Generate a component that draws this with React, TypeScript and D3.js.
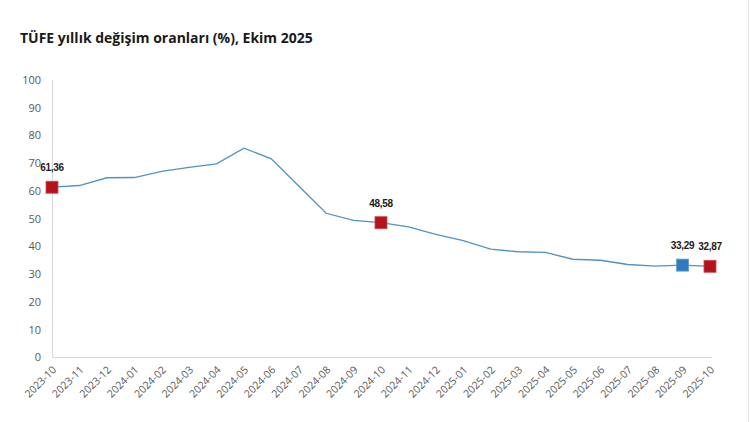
import { useEffect, useRef } from 'react';
import * as d3 from 'd3';

// TÜFE annual change (%), Oct 2023 – Oct 2025
const months = [
  '2023-10', '2023-11', '2023-12', '2024-01', '2024-02', '2024-03', '2024-04',
  '2024-05', '2024-06', '2024-07', '2024-08', '2024-09', '2024-10', '2024-11',
  '2024-12', '2025-01', '2025-02', '2025-03', '2025-04', '2025-05', '2025-06',
  '2025-07', '2025-08', '2025-09', '2025-10',
];
const values = [
  61.36, 61.98, 64.77, 64.86, 67.07, 68.5, 69.8, 75.45, 71.6, 61.78, 51.97,
  49.38, 48.58, 47.09, 44.38, 42.12, 39.05, 38.1, 37.86, 35.41, 35.05, 33.52,
  32.95, 33.29, 32.87,
];
const yTicks = [0, 10, 20, 30, 40, 50, 60, 70, 80, 90, 100];
// highlighted points: month + marker kind
const highlightMonths = ['2023-10', '2024-10', '2025-09', '2025-10'];
const highlightKinds = ['red', 'red', 'blue', 'red'];

const W = 750;
const H = 422;

export default function App() {
  const svgRef = useRef<SVGSVGElement>(null);

  useEffect(() => {
    document.body.style.margin = '0';
    if (!svgRef.current) return;
    const svg = d3.select(svgRef.current);
    svg.selectAll('*').remove();

    const x = d3.scalePoint<string>().domain(months).range([52, 710]);
    const y = d3.scaleLinear().domain([0, 100]).range([357.5, 80]);

    svg.append('rect').attr('width', W).attr('height', H).attr('fill', '#fff');

    // faint right border
    svg.append('line')
      .attr('x1', 748.5).attr('x2', 748.5).attr('y1', 0).attr('y2', H)
      .attr('stroke', '#e4e4e4');

    svg.append('text')
      .attr('x', 20).attr('y', 43)
      .attr('font-family', 'Open Sans')
      .attr('font-weight', 700)
      .attr('font-size', 14)
      .attr('fill', '#1a1a1a')
      .text('TÜFE yıllık değişim oranları (%), Ekim 2025');

    // axes lines
    svg.append('line')
      .attr('x1', 52.5).attr('x2', 52.5).attr('y1', y(100)).attr('y2', y(0))
      .attr('stroke', '#d9d9d9');
    svg.append('line')
      .attr('x1', 52).attr('x2', 712).attr('y1', y(0)).attr('y2', y(0))
      .attr('stroke', '#d9d9d9');

    // y tick labels
    svg.append('g')
      .selectAll('text')
      .data(yTicks)
      .join('text')
      .attr('x', 41)
      .attr('y', (d) => y(d))
      .attr('dy', '0.35em')
      .attr('text-anchor', 'end')
      .attr('font-family', 'Open Sans')
      .attr('font-size', 11)
      .attr('fill', '#595959')
      .text((d) => d);

    // x tick labels, rotated
    svg.append('g')
      .selectAll('text')
      .data(months)
      .join('text')
      .attr('transform', (d) => `translate(${(x(d) ?? 0) + 5},${y(0) + 13}) rotate(-45)`)
      .attr('text-anchor', 'end')
      .attr('font-family', 'Open Sans')
      .attr('font-size', 10.5)
      .attr('fill', '#595959')
      .text((d) => d);

    // line
    const line = d3.line<number>()
      .x((_d, i) => x(months[i]) ?? 0)
      .y((d) => y(d));
    svg.append('path')
      .datum(values)
      .attr('d', line)
      .attr('fill', 'none')
      .attr('stroke', '#4f92c6')
      .attr('stroke-width', 1.3);

    // highlighted markers + labels
    const pts = highlightMonths.map((m, k) => ({
      m,
      v: values[months.indexOf(m)],
      kind: highlightKinds[k],
    }));
    const s = 12;
    svg.append('g')
      .selectAll('rect')
      .data(pts)
      .join('rect')
      .attr('x', (d) => (x(d.m) ?? 0) - s / 2)
      .attr('y', (d) => y(d.v) - s / 2)
      .attr('width', s)
      .attr('height', s)
      .attr('fill', (d) => (d.kind === 'red' ? '#b3141c' : '#2e7bbf'))
      .attr('stroke', (d) => (d.kind === 'red' ? '#c94b50' : '#5e9ad0'))
      .attr('stroke-width', 0.8);

    svg.append('g')
      .selectAll('text')
      .data(pts)
      .join('text')
      .attr('x', (d) => x(d.m) ?? 0)
      .attr('y', (d) => y(d.v) - 16)
      .attr('text-anchor', 'middle')
      .attr('font-family', 'Liberation Sans')
      .attr('font-weight', 700)
      .attr('font-size', 10)
      .attr('letter-spacing', -0.3)
      .attr('fill', '#1a1a1a')
      .text((d) => d.v.toFixed(2).replace('.', ','));
  }, []);

  return <svg ref={svgRef} width={W} height={H} style={{ display: 'block' }} />;
}
